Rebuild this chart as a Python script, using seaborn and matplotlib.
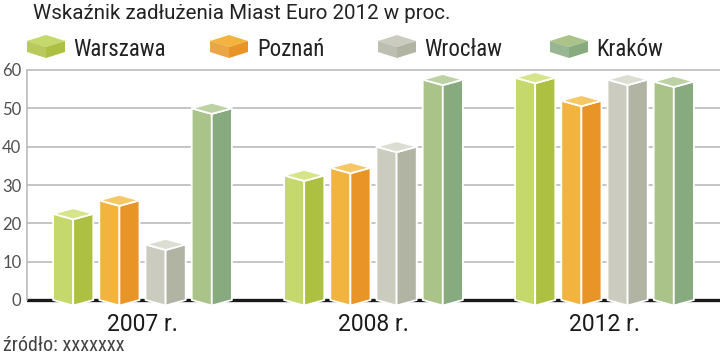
import matplotlib
matplotlib.use("Agg")
import matplotlib.pyplot as plt
from matplotlib.patches import Polygon
from matplotlib import font_manager
import seaborn as sns
import pandas as pd

# ---- data ----
years = ["2007 r.", "2008 r.", "2012 r."]
cities = ["Warszawa", "Poznań", "Wrocław", "Kraków"]
warszawa = [22.5, 32.5, 58.0]
poznan = [26.0, 34.5, 52.0]
wroclaw = [14.5, 40.0, 57.5]
krakow = [50.0, 57.5, 57.0]
yticks = [0, 10, 20, 30, 40, 50, 60]

title = "Wskaźnik zadłużenia Miast Euro 2012 w proc."
source = "źródło: xxxxxxx"

# ---- styling ----
front_cols = ["#c4d86b", "#f2b43f", "#cbccbf", "#a9c389"]
side_cols = ["#adc042", "#e89426", "#b1b3a3", "#87aa7f"]
top_cols = ["#d6e48a", "#f6c865", "#dcddd3", "#bdd2a4"]

sns.set_theme(style="white")
avail = {f.name for f in font_manager.fontManager.ttflist}
def pick(*names):
    for n in names:
        if n in avail:
            return n
    return "DejaVu Sans"
narrow = pick("Liberation Sans Narrow", "Roboto Condensed", "Liberation Sans")
regular = pick("Roboto", "Open Sans", "Liberation Sans")
light = pick("Lato", "Open Sans", "Liberation Sans")
plt.rcParams["font.family"] = [regular, "DejaVu Sans"]

W, H = 720, 357
fig = plt.figure(figsize=(7.2, 3.57), dpi=100)
fig.patch.set_facecolor("white")

# overlay for free text / legend in pixel coords
ov = fig.add_axes([0, 0, 1, 1])
ov.set_xlim(0, W)
ov.set_ylim(H, 0)
ov.axis("off")

ymin, ymax = -3, 62
px_per = 230 / 60
y_bot = 300 + (0 - ymin) * px_per
y_top = 70 - (ymax - 60) * px_per
ax = fig.add_axes([27 / W, (H - y_bot) / H, 693 / W, (y_bot - y_top) / H])
ax.set_facecolor("none")

df = pd.DataFrame({
    "year": years * 4,
    "city": sum([[c] * 3 for c in cities], []),
    "value": warszawa + poznan + wroclaw + krakow,
})

sns.barplot(data=df, x="year", y="value", hue="city", hue_order=cities,
            order=years, palette=front_cols, width=0.8, gap=0.13,
            legend=False, ax=ax, zorder=3)

d = 1.45  # depth (in data units) of 3D effect
for i, cont in enumerate(ax.containers):
    for p in cont.patches:
        x0 = p.get_x()
        w = p.get_width()
        v = p.get_height()
        xm = x0 + w / 2
        x1 = x0 + w
        p.set_visible(False)
        ec = dict(edgecolor="white", linewidth=1.3, joinstyle="round", zorder=4)
        ax.add_patch(Polygon([(x0, 0), (x0, v), (xm, v - d), (xm, -d)],
                             closed=True, facecolor=front_cols[i], **ec))
        ax.add_patch(Polygon([(xm, -d), (xm, v - d), (x1, v), (x1, 0)],
                             closed=True, facecolor=side_cols[i], **ec))
        ax.add_patch(Polygon([(x0, v), (xm, v + d), (x1, v), (xm, v - d)],
                             closed=True, facecolor=top_cols[i], **ec))

ax.set_xlim(-0.5, 2.5)
ax.set_ylim(ymin, ymax)
ax.set_yticks(yticks)
ax.set_yticklabels([str(t) for t in yticks], fontfamily=light, fontweight="normal",
                   fontsize=12, color="#505050")
ax.tick_params(axis="y", length=0, pad=4)
ax.tick_params(axis="x", length=0, pad=1, labelsize=16.5, labelcolor="#1a1a1a")
ax.set_xlabel("")
ax.set_ylabel("")
ax.yaxis.grid(True, color="#b5b5b5", linewidth=1.1)
ax.set_axisbelow(True)
for s in ["top", "right", "bottom"]:
    ax.spines[s].set_visible(False)
ax.spines["left"].set_bounds(0, 60)
ax.spines["left"].set_color("#b5b5b5")
ax.spines["left"].set_linewidth(1.1)
ax.axhline(0, color="#1a1a1a", linewidth=2.4, zorder=2)

# title
ov.text(33, 19, title, fontsize=14.8, color="#222222", va="baseline", ha="left")

# legend with cube icons
icon_x = [27, 210, 378, 550]
text_x = [73, 257, 424, 596]
for i, c in enumerate(cities):
    x = icon_x[i]
    cw, top_y, mid_y, fr_y, bot_s, bot_f = 38, 35, 41, 47, 52, 58
    xm = x + cw / 2
    ov.add_patch(Polygon([(x, mid_y), (xm, top_y), (x + cw, mid_y), (xm, fr_y)],
                         closed=True, facecolor=front_cols[i], edgecolor="none"))
    ov.add_patch(Polygon([(x, mid_y), (xm, fr_y), (xm, bot_f), (x, bot_s)],
                         closed=True, facecolor=side_cols[i], edgecolor="none", alpha=0.85))
    ov.add_patch(Polygon([(xm, fr_y), (x + cw, mid_y), (x + cw, bot_s), (xm, bot_f)],
                         closed=True, facecolor=side_cols[i], edgecolor="none"))
    ov.text(text_x[i], 55.5, c, fontsize=16.5, color="#222222", va="baseline", ha="left",
            fontfamily=[narrow, "DejaVu Sans"])

# source
ov.text(3, 351, source, fontsize=14.5, color="#444444", va="baseline", ha="left",
        fontfamily=[narrow, "DejaVu Sans"])

fig.savefig("out.png", dpi=100)
